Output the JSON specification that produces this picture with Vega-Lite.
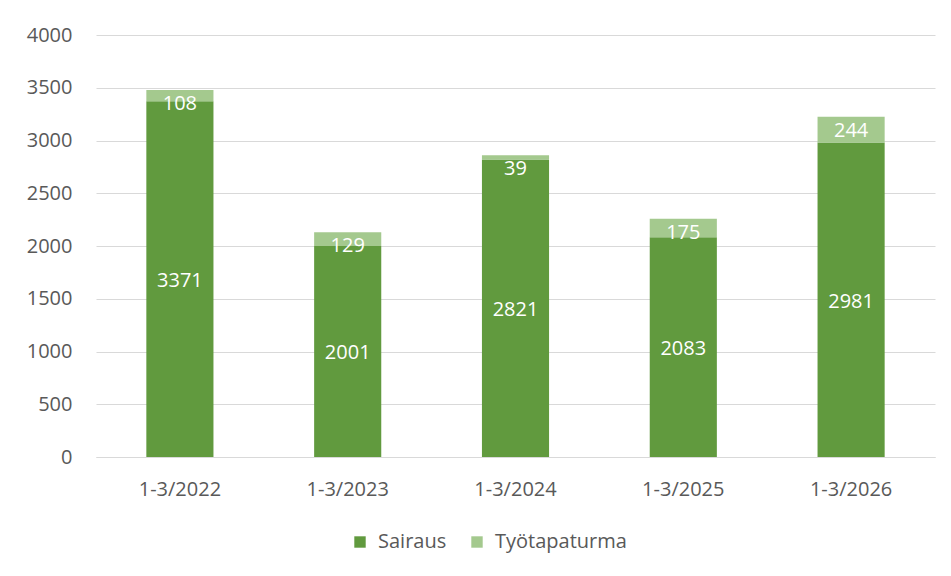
{
  "$schema": "https://vega.github.io/schema/vega-lite/v6.json",
  "autosize": {"type": "none"},
  "width": 839,
  "height": 422,
  "padding": {"left": 96, "top": 35, "right": 16, "bottom": 119},
  "background": "white",
  "data": {
    "values": [
      {"jakso": "1-3/2022", "tyyppi": "Sairaus", "arvo": 3371},
      {"jakso": "1-3/2022", "tyyppi": "Työtapaturma", "arvo": 108},
      {"jakso": "1-3/2023", "tyyppi": "Sairaus", "arvo": 2001},
      {"jakso": "1-3/2023", "tyyppi": "Työtapaturma", "arvo": 129},
      {"jakso": "1-3/2024", "tyyppi": "Sairaus", "arvo": 2821},
      {"jakso": "1-3/2024", "tyyppi": "Työtapaturma", "arvo": 39},
      {"jakso": "1-3/2025", "tyyppi": "Sairaus", "arvo": 2083},
      {"jakso": "1-3/2025", "tyyppi": "Työtapaturma", "arvo": 175},
      {"jakso": "1-3/2026", "tyyppi": "Sairaus", "arvo": 2981},
      {"jakso": "1-3/2026", "tyyppi": "Työtapaturma", "arvo": 244}
    ]
  },
  "encoding": {
    "x": {
      "field": "jakso",
      "type": "nominal",
      "sort": null,
      "scale": {"paddingInner": 0.6, "paddingOuter": 0.3},
      "axis": {"title": null, "labelAngle": 0, "ticks": false, "domainColor": "#d9d9d9", "domainWidth": 1, "labelPadding": 22, "grid": false}
    }
  },
  "layer": [
    {
      "mark": {"type": "bar"},
      "encoding": {
        "y": {
          "field": "arvo",
          "type": "quantitative",
          "aggregate": "sum",
          "stack": "zero",
          "scale": {"domain": [0, 4000], "nice": false},
          "axis": {"title": null, "format": "d", "values": [0, 500, 1000, 1500, 2000, 2500, 3000, 3500, 4000], "domain": false, "ticks": false, "gridColor": "#d9d9d9", "labelPadding": 24}
        },
        "order": {"field": "tyyppi", "sort": "ascending"},
        "color": {
          "field": "tyyppi",
          "type": "nominal",
          "scale": {"domain": ["Sairaus", "Työtapaturma"], "range": ["#619A3E", "#A4C98E"]},
          "legend": {
            "title": null,
            "orient": "none",
            "direction": "horizontal",
            "legendX": 254,
            "legendY": 497,
            "symbolType": "square",
            "symbolSize": 130,
            "symbolStrokeWidth": 0,
            "labelFontSize": 20,
            "labelColor": "#595959",
            "labelFont": "Open Sans",
            "labelOffset": 8,
            "columnPadding": 20
          }
        }
      }
    },
    {
      "transform": [
        {"stack": "arvo", "groupby": ["jakso"], "as": ["y0", "y1"], "sort": [{"field": "tyyppi", "order": "ascending"}]},
        {"filter": "datum.tyyppi === 'Sairaus'"},
        {"fold": ["y0", "y1"], "as": ["reuna", "v"]}
      ],
      "mark": {"type": "text", "color": "white", "fontSize": 20, "font": "Open Sans", "baseline": "middle", "align": "center", "dy": 2},
      "encoding": {
        "y": {"field": "v", "type": "quantitative", "aggregate": "mean"},
        "detail": {"field": "tyyppi"},
        "text": {"field": "arvo", "type": "quantitative", "format": "d"}
      }
    },
    {
      "transform": [
        {"stack": "arvo", "groupby": ["jakso"], "as": ["y0", "y1"], "sort": [{"field": "tyyppi", "order": "ascending"}]},
        {"filter": "datum.tyyppi === 'Työtapaturma'"}
      ],
      "mark": {"type": "text", "color": "white", "fontSize": 20, "font": "Open Sans", "baseline": "middle", "align": "center", "dy": 14},
      "encoding": {
        "y": {"field": "y1", "type": "quantitative"},
        "text": {"field": "arvo", "type": "quantitative", "format": "d"}
      }
    }
  ],
  "config": {
    "font": "Open Sans",
    "view": {"stroke": null},
    "axis": {"labelFont": "Open Sans", "labelFontSize": 20, "labelColor": "#595959"}
  }
}
